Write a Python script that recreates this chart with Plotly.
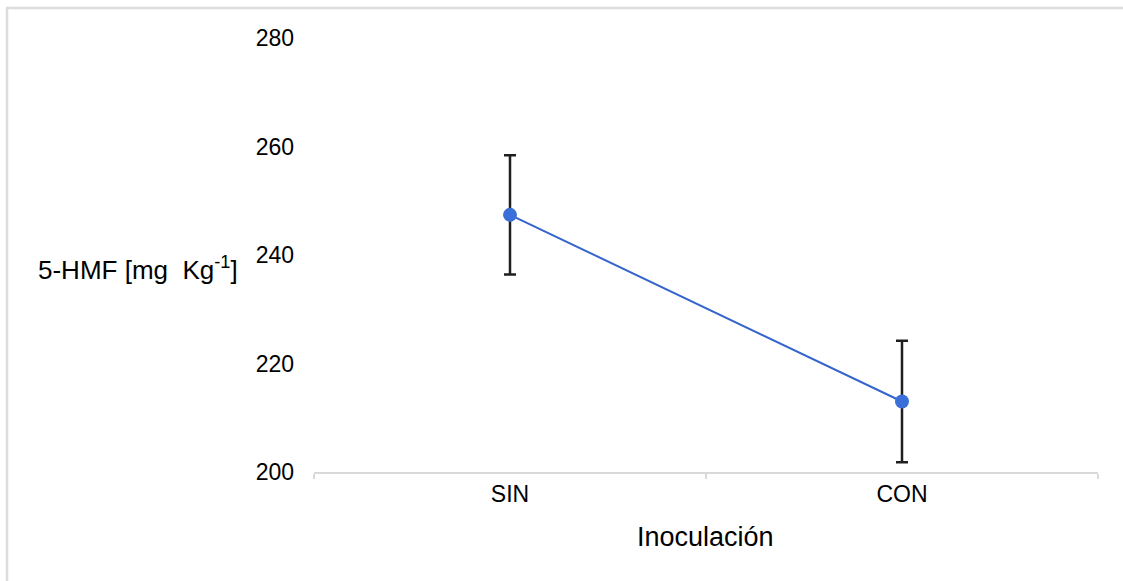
import plotly.graph_objects as go

categories = ["SIN", "CON"]
means = [247.4, 213.0]
errors = [11.0, 11.2]
y_ticks = [200, 220, 240, 260, 280]

W, H = 1123, 581
L, R, T, B = 314, 1098, 38, 472
pw, ph = R - L, B - T

def px(x):
    return (x - L) / pw

def py(y):
    return (B - y) / ph

FONT = "Liberation Sans, Arial, sans-serif"

fig = go.Figure()
fig.add_trace(go.Scatter(
    x=categories, y=means, mode="lines+markers",
    line=dict(color="#3565CC", width=2),
    marker=dict(color="#3A6ED8", size=14),
    error_y=dict(type="data", array=errors, visible=True, color="#1f1f1f", thickness=2.5, width=6),
    showlegend=False,
))

fig.update_layout(
    width=W, height=H,
    margin=dict(l=L, r=W - R, t=T, b=H - B, autoexpand=False),
    paper_bgcolor="white", plot_bgcolor="white",
    font=dict(family=FONT, size=23, color="#000000"),
    xaxis=dict(
        type="category", range=[-0.5, 1.5], showgrid=False,
        showline=True, linecolor="#d9d9d9", linewidth=2,
        ticks="outside", tickson="boundaries", ticklen=5, tickcolor="#d9d9d9", tickwidth=2,
        tickfont=dict(size=23), zeroline=False,
    ),
    yaxis=dict(
        range=[200, 280], tickvals=y_ticks, showgrid=False, showline=False, zeroline=False,
        ticks="", ticklabelstandoff=19, tickfont=dict(size=23),
    ),
    shapes=[
        dict(type="line", xref="paper", yref="paper", x0=px(6), x1=px(1123), y0=py(8), y1=py(8),
             line=dict(color="#dcdcdc", width=2.5)),
        dict(type="line", xref="paper", yref="paper", x0=px(7), x1=px(7), y0=py(8), y1=py(581),
             line=dict(color="#dcdcdc", width=2.5)),
    ],
    annotations=[
        dict(text="5-HMF [mg  Kg<sup>-1</sup>]", xref="paper", yref="paper", x=px(36), y=py(268),
             xanchor="left", yanchor="middle", showarrow=False, font=dict(size=26)),
        dict(text="Inoculación", xref="paper", yref="paper", x=px(705), y=py(537),
             xanchor="center", yanchor="middle", showarrow=False, font=dict(size=27)),
    ],
)

fig.write_html("out.html")
